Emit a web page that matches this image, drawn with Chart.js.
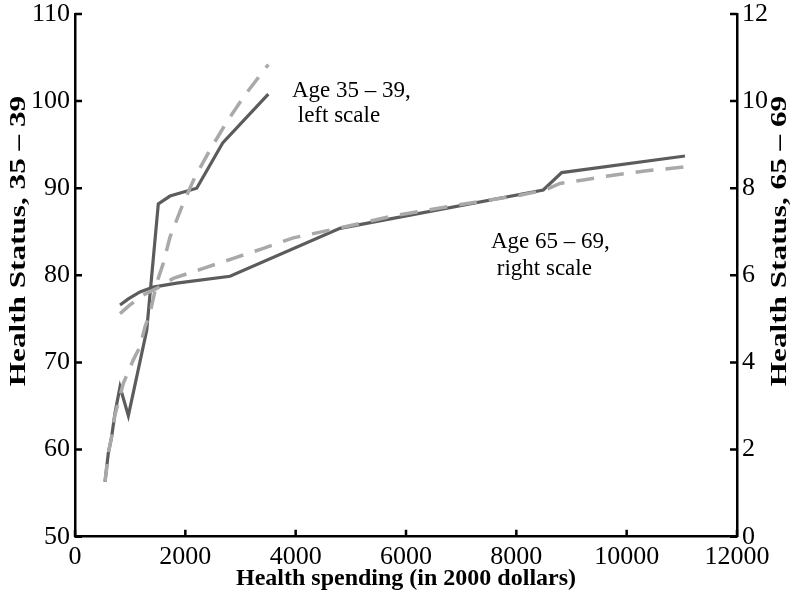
<!DOCTYPE html>
<html>
<head>
<meta charset="utf-8">
<script src="https://cdn.jsdelivr.net/npm/chart.js@4.4.1/dist/chart.umd.min.js"></script>
<style>
  body { margin: 0; background: #fff; }
  #wrap { width: 792px; height: 595px; }
</style>
</head>
<body>
<div id="wrap"><canvas id="healthChart" width="792" height="595"></canvas></div>
<script>
// Age 35-39 (left scale): observed and fitted
const youngSpend = [544, 604, 665, 725, 816, 967, 1300, 1510, 1722, 2206, 2677, 3504];
const youngStatus = [56.3, 59.6, 61.5, 64.2, 67.2, 63.9, 73.7, 88.2, 89.1, 90.0, 95.2, 100.8];
const youngFitSpend = [544, 604, 665, 725, 876, 1057, 1178, 1269, 1359, 1481, 1601, 1722, 1963, 2175, 2447, 2749, 3081, 3504];
const youngFit = [56.3, 59.6, 61.5, 64.0, 67.6, 70.3, 71.8, 74.1, 75.6, 79.1, 81.4, 84.4, 88.3, 91.3, 94.4, 97.6, 100.7, 104.2];

// Age 65-69 (right scale): observed and fitted
const oldSpend = [816, 967, 1178, 1420, 1843, 2810, 4803, 8488, 8822, 11057];
const oldStatus = [5.32, 5.46, 5.62, 5.73, 5.82, 5.98, 7.08, 7.96, 8.36, 8.74];
const oldFitSpend = [816, 997, 1238, 1481, 1782, 2326, 2870, 3414, 3957, 4622, 5166, 5710, 6313, 6918, 7522, 8066, 8519, 8791, 9213, 9757, 10362, 11057];
const oldFit = [5.12, 5.32, 5.55, 5.70, 5.93, 6.16, 6.39, 6.62, 6.86, 7.04, 7.19, 7.35, 7.48, 7.61, 7.73, 7.84, 7.96, 8.11, 8.19, 8.30, 8.40, 8.49];

const xTitle = "Health spending (in 2000 dollars)";
const yTitle = "Health Status, 35 \u2013 39";
const y2Title = "Health Status, 65 \u2013 69";
const youngNote = ["Age 35 \u2013 39,", " left scale"];
const oldNote = ["Age 65 \u2013 69,", " right scale"];

const serif = '"Liberation Serif", "Times New Roman", serif';
const solidColor = "#5c5c5c";
const dashColor = "#a9a9a9";
const tickLen = 7;

function zip(xs, ys) {
  return xs.map((x, i) => ({ x, y: ys[i] }));
}

function drawUp(ctx, text, x, y) {
  ctx.save();
  ctx.translate(x, y);
  ctx.rotate(-Math.PI / 2);
  ctx.scale(1.3, 1);
  ctx.fillText(text, 0, 0);
  ctx.restore();
}

// inward tick marks, placed from each scale's own ticks
const tickPlugin = {
  id: "tickPlugin",
  afterDraw(chart) {
    const { ctx, chartArea, scales } = chart;
    ctx.save();
    ctx.strokeStyle = "#000";
    ctx.lineWidth = 2.5;
    ctx.beginPath();
    scales.x.ticks.forEach(t => {
      const px = scales.x.getPixelForValue(t.value);
      ctx.moveTo(px, chartArea.bottom);
      ctx.lineTo(px, chartArea.bottom - tickLen);
    });
    scales.y.ticks.forEach(t => {
      const py = scales.y.getPixelForValue(t.value);
      ctx.moveTo(chartArea.left, py);
      ctx.lineTo(chartArea.left + tickLen, py);
    });
    scales.y2.ticks.forEach(t => {
      const py = scales.y2.getPixelForValue(t.value);
      ctx.moveTo(chartArea.right, py);
      ctx.lineTo(chartArea.right - tickLen, py);
    });
    ctx.stroke();
    ctx.restore();
  }
};

const textPlugin = {
  id: "textPlugin",
  afterDraw(chart) {
    const { ctx, chartArea } = chart;
    ctx.save();
    ctx.fillStyle = "#000";
    ctx.textAlign = "center";
    ctx.textBaseline = "middle";
    ctx.font = "bold 24px " + serif;
    ctx.fillText(xTitle, (chartArea.left + chartArea.right) / 2, 579);
    drawUp(ctx, yTitle, 19, 241);
    drawUp(ctx, y2Title, 780, 241);

    ctx.font = "23px " + serif;
    ctx.textAlign = "left";
    ctx.textBaseline = "alphabetic";
    ctx.fillText(youngNote[0], 292, 97);
    ctx.fillText(youngNote[1], 292, 122);
    ctx.fillText(oldNote[0], 491, 248);
    ctx.fillText(oldNote[1], 491, 275);
    ctx.restore();
  }
};

const tickFont = { family: serif, size: 26 };
const axisGrid = { drawOnChartArea: false, drawTicks: false };
const axisBorder = { color: "#000", width: 2.5 };
const plain = v => String(v);
function noPad(scale) {
  scale.paddingTop = 0;
  scale.paddingBottom = 0;
  scale.paddingLeft = 0;
  scale.paddingRight = 0;
}

new Chart(document.getElementById("healthChart").getContext("2d"), {
  type: "line",
  data: {
    datasets: [
      {
        data: zip(youngFitSpend, youngFit),
        yAxisID: "y",
        borderColor: dashColor,
        borderWidth: 3.5,
        borderDash: [18, 12],
        pointRadius: 0,
        tension: 0
      },
      {
        data: zip(oldFitSpend, oldFit),
        yAxisID: "y2",
        borderColor: dashColor,
        borderWidth: 3.5,
        borderDash: [18, 12],
        pointRadius: 0,
        tension: 0
      },
      {
        data: zip(youngSpend, youngStatus),
        yAxisID: "y",
        borderColor: solidColor,
        borderWidth: 3.2,
        pointRadius: 0,
        tension: 0
      },
      {
        data: zip(oldSpend, oldStatus),
        yAxisID: "y2",
        borderColor: solidColor,
        borderWidth: 3.2,
        pointRadius: 0,
        tension: 0
      }
    ]
  },
  options: {
    responsive: false,
    animation: false,
    layout: { padding: { top: 14, left: 0, right: 0, bottom: 0 } },
    plugins: {
      legend: { display: false },
      tooltip: { enabled: false }
    },
    scales: {
      x: {
        type: "linear",
        position: "bottom",
        min: 0,
        max: 12000,
        grid: axisGrid,
        border: axisBorder,
        ticks: { stepSize: 2000, autoSkip: false, maxRotation: 0, padding: 5, color: "#000", font: tickFont, callback: plain },
        afterFit(scale) { scale.height = 58.3; noPad(scale); }
      },
      y: {
        type: "linear",
        position: "left",
        min: 50,
        max: 110,
        grid: axisGrid,
        border: axisBorder,
        ticks: { stepSize: 10, autoSkip: false, padding: 5, color: "#000", font: tickFont, callback: plain },
        afterFit(scale) { scale.width = 75; noPad(scale); }
      },
      y2: {
        type: "linear",
        position: "right",
        min: 0,
        max: 12,
        grid: axisGrid,
        border: axisBorder,
        ticks: { stepSize: 2, autoSkip: false, padding: 5, color: "#000", font: tickFont, callback: plain },
        afterFit(scale) { scale.width = 55; noPad(scale); }
      }
    }
  },
  plugins: [tickPlugin, textPlugin]
});
</script>
</body>
</html>
